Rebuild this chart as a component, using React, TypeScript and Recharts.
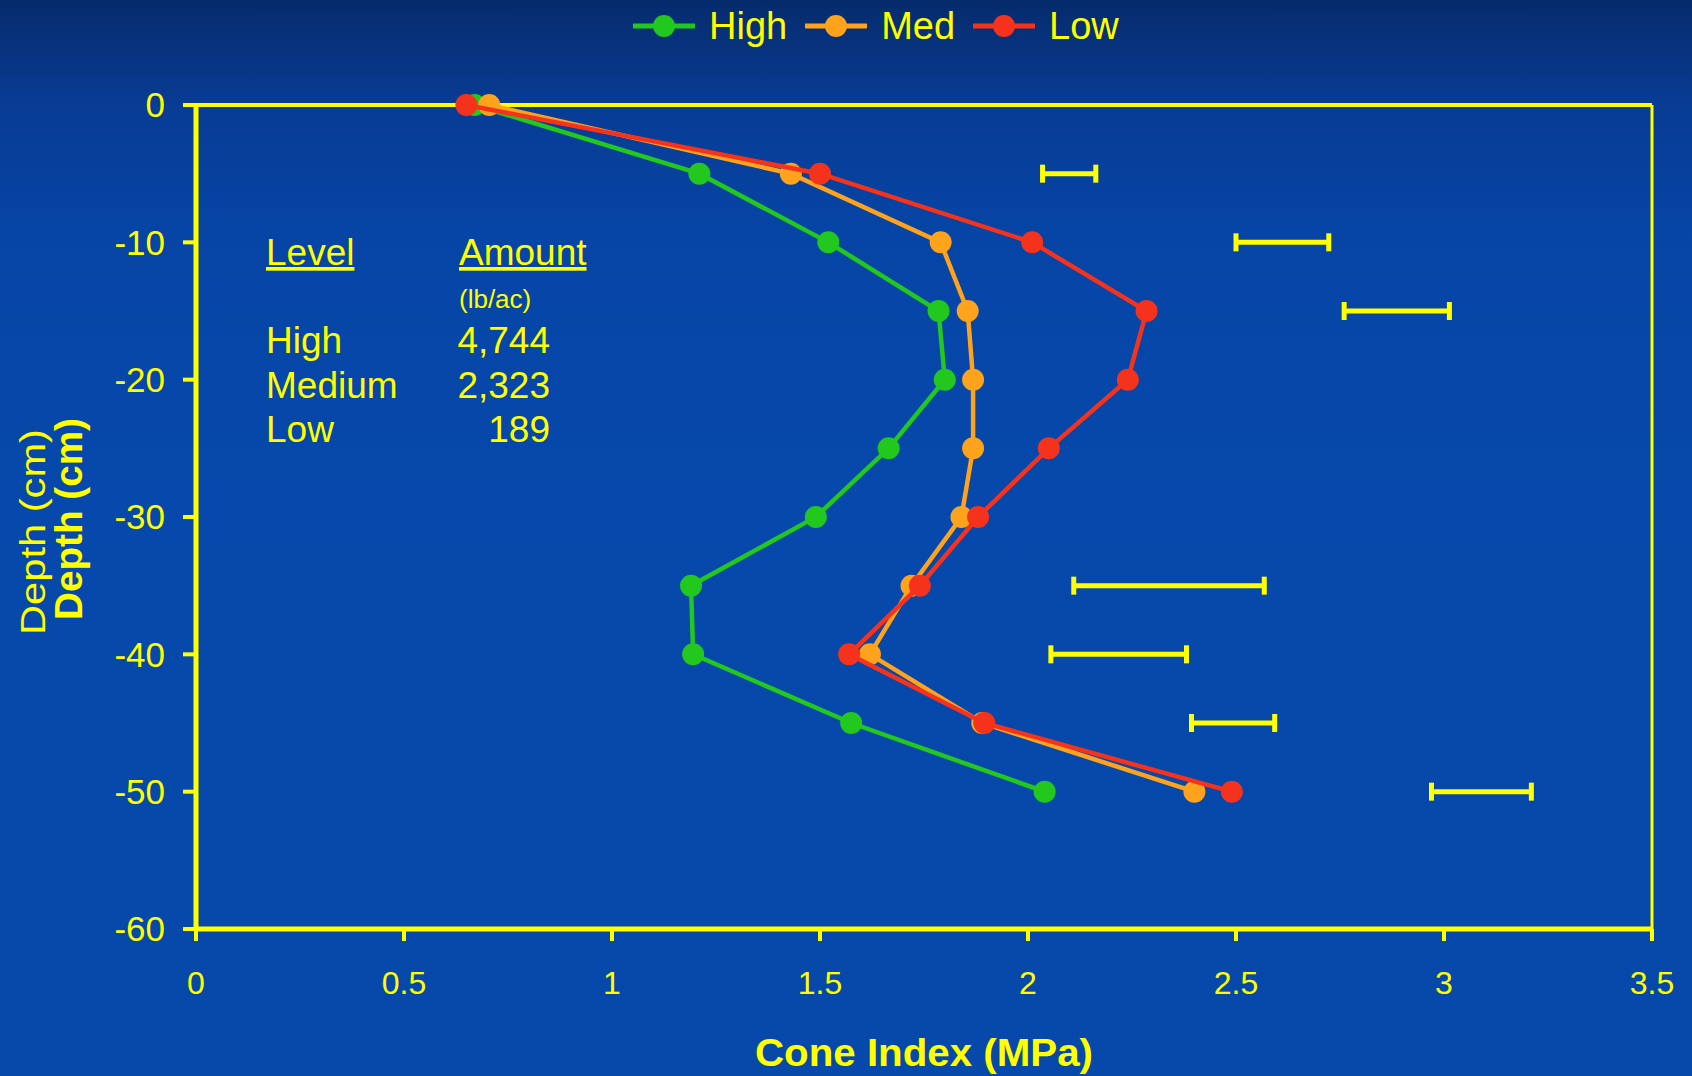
import React from 'react';
import { ScatterChart, Scatter, XAxis, YAxis, ReferenceLine, ErrorBar } from 'recharts';

// ---- data ----
const depths = [0, -5, -10, -15, -20, -25, -30, -35, -40, -45, -50];
const highValues = [0.67, 1.21, 1.52, 1.785, 1.8, 1.665, 1.49, 1.19, 1.195, 1.575, 2.04];
const medValues = [0.705, 1.43, 1.79, 1.855, 1.868, 1.868, 1.84, 1.72, 1.62, 1.89, 2.4];
const lowValues = [0.65, 1.5, 2.01, 2.285, 2.24, 2.05, 1.88, 1.74, 1.57, 1.895, 2.49];

const lsdDepths = [-5, -10, -15, -35, -40, -45, -50];
const lsdLow = [2.035, 2.5, 2.76, 2.11, 2.055, 2.393, 2.97];
const lsdHigh = [2.163, 2.723, 3.013, 2.568, 2.381, 2.593, 3.21];

const xTicks = [0, 0.5, 1, 1.5, 2, 2.5, 3, 3.5];
const yTicks = [0, -10, -20, -30, -40, -50, -60];

const seriesNames = ['High', 'Med', 'Low'];
const seriesColors = ['#22c81e', '#ffa21c', '#f5331c'];
const seriesValues = [highValues, medValues, lowValues];

const levelNames = ['High', 'Medium', 'Low'];
const amounts = ['4,744', '2,323', '189'];

const YELLOW = '#ffff00';
const FONT = '"Liberation Sans", Arial, Helvetica, sans-serif';

const seriesData = seriesValues.map((vals) => vals.map((v, i) => ({ x: v, y: depths[i] })));
const lsdData = lsdDepths.map((d, i) => ({
  x: (lsdLow[i] + lsdHigh[i]) / 2,
  y: d,
  err: (lsdHigh[i] - lsdLow[i]) / 2,
}));

const XLabel = (props: any) => {
  const vb = props.viewBox || { x: 196, y: 929, width: 1456, height: 147 };
  return (
    <text
      x={vb.x + vb.width / 2}
      y={vb.y + 137}
      textAnchor="middle"
      fontFamily={FONT}
      fontWeight="bold"
      fontSize={38}
      fill={YELLOW}
      textLength={338}
      lengthAdjust="spacingAndGlyphs"
    >
      Cone Index (MPa)
    </text>
  );
};

const YLabel = () => (
  <g>
    <text
      x={45}
      y={532}
      transform="rotate(-90 45 532)"
      textAnchor="middle"
      fontFamily={FONT}
      fontSize={35}
      fill={YELLOW}
      textLength={206}
      lengthAdjust="spacingAndGlyphs"
    >
      Depth (cm)
    </text>
    <text
      x={82}
      y={519}
      transform="rotate(-90 82 519)"
      textAnchor="middle"
      fontFamily={FONT}
      fontWeight="bold"
      fontSize={38}
      fill={YELLOW}
      textLength={202}
      lengthAdjust="spacingAndGlyphs"
    >
      Depth (cm)
    </text>
  </g>
);

export default function App() {
  return (
    <div
      style={{
        position: 'absolute',
        left: 0,
        top: 0,
        width: 1692,
        height: 1076,
        overflow: 'hidden',
        background:
          'linear-gradient(180deg, #062b6c 0%, #083c95 10%, #0645a6 22%, #0648ab 45%, #0649aa 100%)',
      }}
    >
      <ScatterChart
        width={1692}
        height={1076}
        margin={{ top: 105, right: 40, bottom: 0, left: 0 }}
      >
        <XAxis
          type="number"
          dataKey="x"
          domain={[0, 3.5]}
          ticks={xTicks}
          height={147}
          tickSize={12}
          tickMargin={30}
          tick={{ fill: YELLOW, fontSize: 32, fontFamily: FONT }}
          tickLine={{ stroke: YELLOW, strokeWidth: 4 }}
          axisLine={{ stroke: YELLOW, strokeWidth: 5 }}
          label={XLabel}
        />
        <YAxis
          type="number"
          dataKey="y"
          domain={[-60, 0]}
          ticks={yTicks}
          width={196}
          tickSize={13}
          tickMargin={18}
          tick={{ fill: YELLOW, fontSize: 35, fontFamily: FONT }}
          tickLine={{ stroke: YELLOW, strokeWidth: 4 }}
          axisLine={{ stroke: YELLOW, strokeWidth: 5 }}
          label={YLabel}
        />
        <ReferenceLine y={0} stroke={YELLOW} strokeWidth={4} />
        <ReferenceLine x={3.5} stroke={YELLOW} strokeWidth={3} />
        <Scatter
          name="LSD"
          data={lsdData}
          isAnimationActive={false}
          shape={() => <g />}
        >
          <ErrorBar
            dataKey="err"
            direction="x"
            width={9}
            stroke={YELLOW}
            strokeWidth={5}
            isAnimationActive={false}
          />
        </Scatter>
        {seriesNames.map((name, i) => (
          <Scatter
            key={name}
            name={name}
            data={seriesData[i]}
            isAnimationActive={false}
            line={{ stroke: seriesColors[i], strokeWidth: 4.5 }}
            lineJointType="linear"
            shape={(p: any) => <circle cx={p.cx} cy={p.cy} r={11} fill={seriesColors[i]} />}
          />
        ))}
      </ScatterChart>

      {/* legend */}
      <div
        style={{
          position: 'absolute',
          left: 633,
          top: 4,
          height: 44,
          display: 'flex',
          alignItems: 'center',
          fontFamily: FONT,
          fontSize: 38,
          color: YELLOW,
          pointerEvents: 'none',
        }}
      >
        {seriesNames.map((name, i) => (
          <div key={name} style={{ display: 'flex', alignItems: 'center', marginRight: i < 2 ? 18 : 0 }}>
            <svg width={62} height={26} style={{ marginRight: 14 }}>
              <line x1={0} y1={13} x2={62} y2={13} stroke={seriesColors[i]} strokeWidth={5} />
              <circle cx={31} cy={13} r={11} fill={seriesColors[i]} />
            </svg>
            <span style={{ lineHeight: '44px' }}>{name}</span>
          </div>
        ))}
      </div>

      {/* annotation */}
      <svg
        width={1692}
        height={1076}
        style={{ position: 'absolute', left: 0, top: 0, pointerEvents: 'none' }}
      >
        <g fontFamily={FONT} fill={YELLOW}>
          <text x={266} y={265} fontSize={37} textDecoration="underline">
            Level
          </text>
          <text x={459} y={265} fontSize={37} textDecoration="underline">
            Amount
          </text>
          <text x={459} y={308} fontSize={26}>
            (lb/ac)
          </text>
          {levelNames.map((n, i) => (
            <g key={n}>
              <text x={266} y={353 + i * 44.5} fontSize={37}>
                {n}
              </text>
              <text x={550} y={353 + i * 44.5} fontSize={37} textAnchor="end">
                {amounts[i]}
              </text>
            </g>
          ))}
        </g>
      </svg>
    </div>
  );
}
